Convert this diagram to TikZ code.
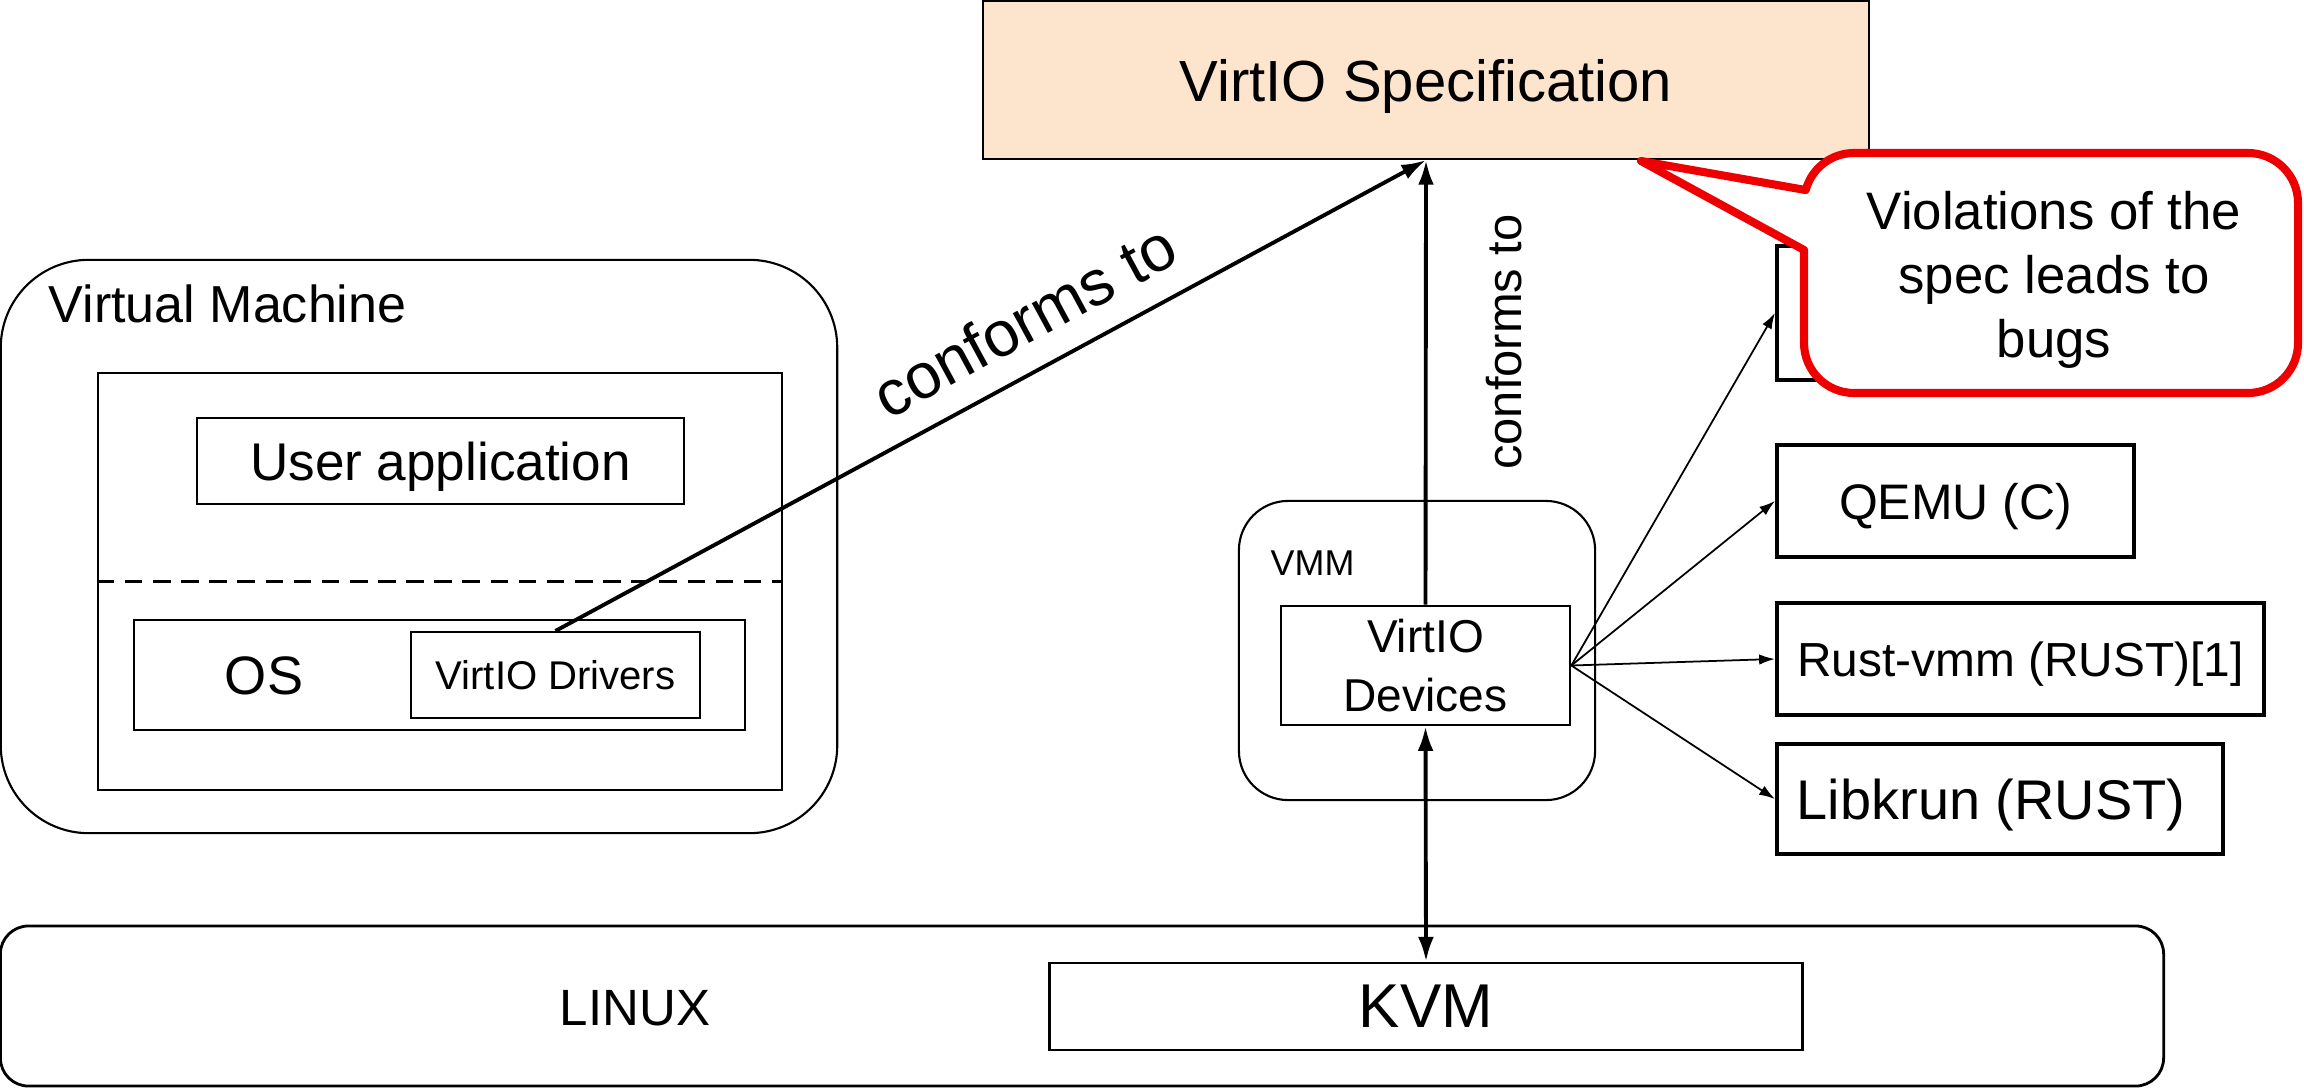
\documentclass[tikz,border=0pt]{standalone}
\usepackage{fontspec}
\setmainfont{Liberation Sans}
\usetikzlibrary{arrows.meta}
\definecolor{specfill}{HTML}{FCE4CD}
\definecolor{callred}{HTML}{EE0000}
\newcommand{\fsz}[2]{\fontsize{#1}{#2}\selectfont}
\begin{document}
\begin{tikzpicture}[x=0.01cm, y=-0.01cm,
  box/.style={draw, line width=0.6pt, inner sep=0pt, align=center},
  rbox/.style={draw, line width=1.1pt, inner sep=0pt, align=center, text depth=0pt},
  conn/.style={line width=1.1pt, -{Latex[length=7pt,width=4.5pt]}},
  thinconn/.style={line width=0.5pt, -{Latex[length=4.5pt,width=3pt]}},
  lbl/.style={inner sep=0pt}]
\useasboundingbox (0,0) rectangle (2304,1088);

% VirtIO specification
\node[box, fill=specfill, text depth=0pt, minimum width=8.86cm, minimum height=1.58cm, font=\fsz{16.5pt}{19pt}] (spec) at (1426,80) {VirtIO Specification};

% Virtual machine
\node[box, rounded corners=25pt, minimum width=8.36cm, minimum height=5.73cm] (vm) at (419,546.5) {};
\node[lbl, anchor=base west, font=\fsz{14.8pt}{17pt}] (vmtitle) at (48,322) {Virtual Machine};
\node[box, minimum width=6.84cm, minimum height=4.17cm] (inner) at (440,581.5) {};
\node[box, text depth=0pt, minimum width=4.87cm, minimum height=0.86cm, font=\fsz{15.1pt}{18pt}] (userapp) at (440.5,461) {User application};
\draw[line width=0.6pt, dash pattern=on 5pt off 3pt] (inner.west) -- (inner.east);
\node[box, minimum width=6.11cm, minimum height=1.10cm] (os) at (439.5,675) {};
\node[lbl, font=\fsz{15.4pt}{18pt}] (oslabel) at (264,676) {OS};
\node[box, text depth=0pt, minimum width=2.89cm, minimum height=0.86cm, font=\fsz{11.4pt}{14pt}] (drivers) at (555.5,675) {VirtIO Drivers};

% VMM
\node[box, rounded corners=14pt, minimum width=3.56cm, minimum height=2.99cm] (vmm) at (1417,650.5) {};
\node[lbl, anchor=base west, font=\fsz{10.2pt}{12pt}] (vmmlabel) at (1270,575) {VMM};
\node[box, line width=0.7pt, minimum width=2.89cm, minimum height=1.19cm, font=\fsz{13.1pt}{16.8pt}] (devices) at (1425.5,665.5) {VirtIO\\Devices};

% Linux
\node[box, line width=0.8pt, rounded corners=8pt, minimum width=21.62cm, minimum height=1.60cm] (linux) at (1082,1006) {};
\node[lbl, font=\fsz{14.5pt}{17pt}] (linuxlabel) at (635,1008) {LINUX};
\node[box, line width=0.8pt, text depth=0pt, minimum width=7.52cm, minimum height=0.87cm, font=\fsz{17.6pt}{20pt}] (kvm) at (1426,1006.5) {KVM};

% implementations
\node[rbox, minimum width=3.73cm, minimum height=1.34cm] (hidden) at (1963.5,313) {};
\node[rbox, minimum width=3.57cm, minimum height=1.12cm, font=\fsz{14.2pt}{17pt}] (qemu) at (1955.5,501) {QEMU (C)};
\node[rbox, minimum width=4.87cm, minimum height=1.12cm, font=\fsz{13.6pt}{16pt}] (rustvmm) at (2020.5,659) {Rust-vmm (RUST)[1]};
\node[rbox, minimum width=4.46cm, minimum height=1.10cm, font=\fsz{15.9pt}{19pt}] (libkrun) at (2000,799) {Libkrun (RUST)\hspace*{0.18cm}};

% connectors
\draw[conn] (drivers.north) -- node[sloped, above=7pt, pos=0.566, inner sep=0pt, font=\fsz{18.2pt}{21pt}] (conf1) {conforms to} (spec.south);
\draw[conn] (devices.north) -- (spec.south);
\node[lbl, rotate=90, font=\fsz{13.9pt}{16pt}] (conf2) at (1504,342) {conforms to};
\draw[line width=1.1pt, {Latex[length=7pt,width=4.5pt]}-{Latex[length=7pt,width=4.5pt]}] (devices.south) -- (kvm.north);
\draw[thinconn] (devices.east) -- (hidden.west);
\draw[thinconn] (devices.east) -- (qemu.west);
\draw[thinconn] (devices.east) -- (rustvmm.west);
\draw[thinconn] (devices.east) -- (libkrun.west);

% callout
\coordinate (tip) at (1641,161);
\path[draw=callred, fill=white, line width=2.3pt, line join=round]
  (1804,250) -- (1804,343) arc[start angle=180, end angle=90, radius=50]
  -- (2248,393) arc[start angle=90, end angle=0, radius=50]
  -- (2298,203) arc[start angle=0, end angle=-90, radius=50]
  -- (1854,153) arc[start angle=-90, end angle=-165, radius=50]
  -- (tip) -- cycle;
\node[lbl, align=center, font=\fsz{15pt}{18.2pt}] (callout) at (2054,280) {Violations of the\\spec leads to\\bugs};
\end{tikzpicture}
\end{document}
